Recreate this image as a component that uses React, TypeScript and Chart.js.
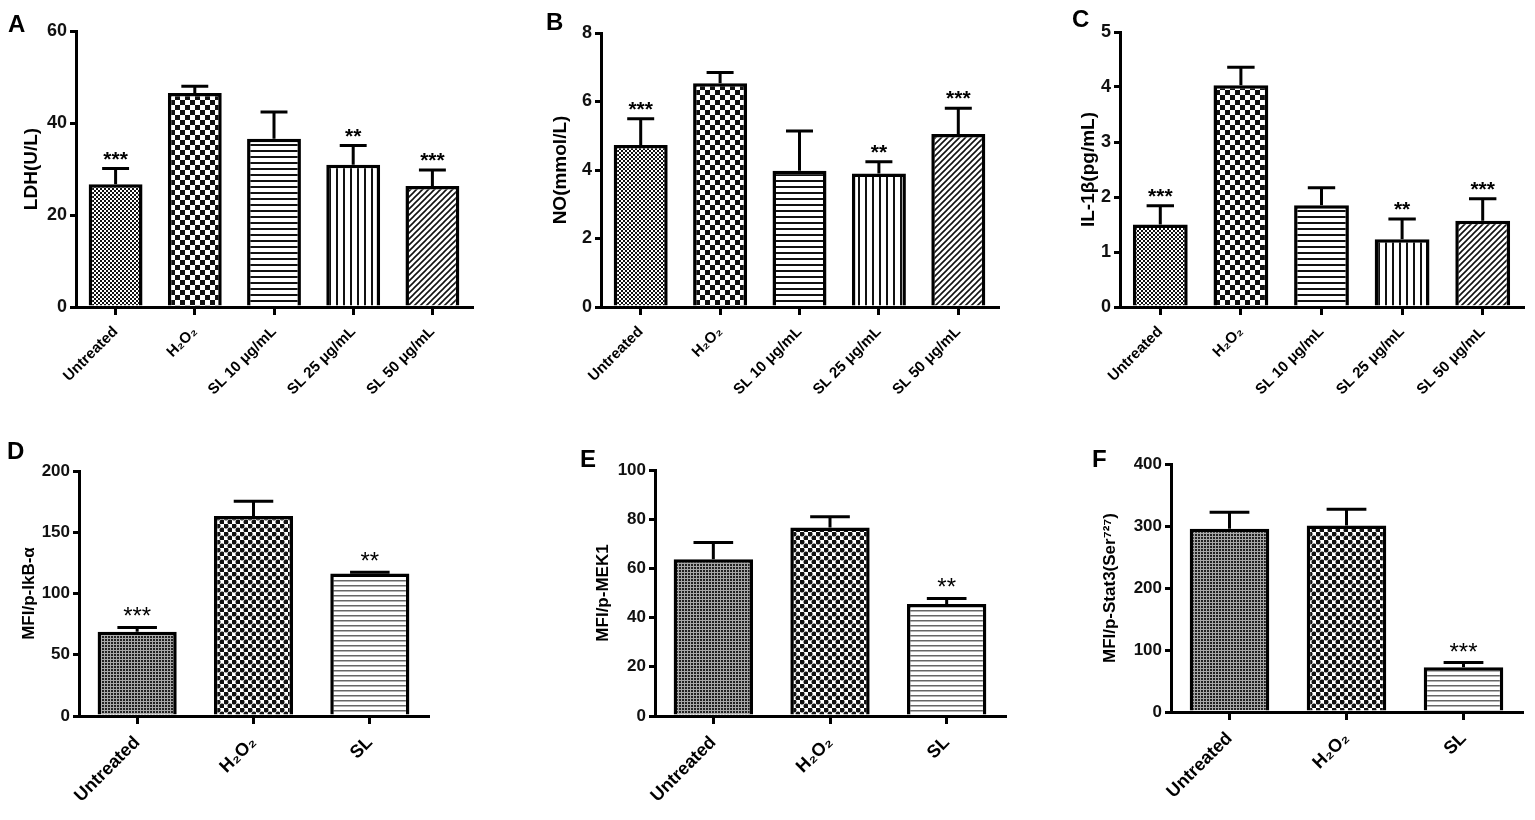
import { useEffect, useRef } from 'react';
import { Chart, registerables } from 'chart.js';

Chart.register(...registerables);

const FONT = '"Liberation Sans", Arial, Helvetica, sans-serif';

// categories
const doseGroups = ['Untreated', 'H₂O₂', 'SL 10 μg/mL', 'SL 25 μg/mL', 'SL 50 μg/mL'];
const mfiGroups = ['Untreated', 'H₂O₂', 'SL'];

// A - LDH
const ldhMean = [26.7, 46.5, 36.6, 30.9, 26.3];
const ldhSem = [3.4, 1.5, 5.8, 4.2, 3.5];
const ldhStars = ['***', '', '', '**', '***'];
// B - NO
const noMean = [4.73, 6.53, 3.98, 3.9, 5.05];
const noSem = [0.77, 0.32, 1.16, 0.34, 0.75];
const noStars = ['***', '', '', '**', '***'];
// C - IL-1b
const il1Mean = [1.5, 4.03, 1.85, 1.23, 1.57];
const il1Sem = [0.34, 0.33, 0.32, 0.37, 0.4];
const il1Stars = ['***', '', '', '**', '***'];
// D - p-IkB-a
const ikbMean = [68.8, 163.3, 116.3];
const ikbSem = [3.5, 12.0, 1.1];
const ikbStars = ['***', '', '**'];
// E - p-MEK1
const mekMean = [63.7, 76.6, 45.5];
const mekSem = [6.8, 4.4, 2.3];
const mekStars = ['', '', '**'];
// F - p-Stat3
const statMean = [295.6, 301.0, 72.0];
const statSem = [26.4, 26.0, 7.7];
const statStars = ['', '', '***'];

const makePattern = (kind: string) => {
    const c = document.createElement('canvas');
    const g = c.getContext('2d')!;
    const size = { fine: 4, check: 10, hl: 6, vl: 7, diag: 6, dots: 3, dotcheck: 8, grayl: 5 }[kind] || 4;
    c.width = size;
    c.height = size;
    g.fillStyle = '#fff';
    g.fillRect(0, 0, size, size);
    g.fillStyle = '#111';
    g.strokeStyle = '#111';
    if (kind === 'fine') {
        g.fillRect(0, 0, 2, 2);
        g.fillRect(2, 2, 2, 2);
    } else if (kind === 'check') {
        g.fillRect(0, 0, 5, 5);
        g.fillRect(5, 5, 5, 5);
    } else if (kind === 'hl') {
        g.fillRect(0, 0, size, 2);
    } else if (kind === 'vl') {
        g.fillRect(0, 0, 2, size);
    } else if (kind === 'diag') {
        g.lineWidth = 1.6;
        g.beginPath();
        g.moveTo(-1, size + 1);
        g.lineTo(size + 1, -1);
        g.moveTo(-1, 1);
        g.lineTo(1, -1);
        g.moveTo(size - 1, size + 1);
        g.lineTo(size + 1, size - 1);
        g.stroke();
    } else if (kind === 'dots') {
        g.fillStyle = '#a8a8a8';
        g.fillRect(0, 0, size, size);
        g.fillStyle = '#222';
        g.fillRect(0, 0, 2, 2);
    } else if (kind === 'dotcheck') {
        g.fillStyle = '#111';
        g.beginPath();
        g.arc(2, 2, 2.5, 0, Math.PI * 2);
        g.fill();
        g.beginPath();
        g.arc(6, 6, 2.5, 0, Math.PI * 2);
        g.fill();
    } else if (kind === 'grayl') {
        g.fillStyle = '#666';
        g.fillRect(0, 0, size, 1.5);
    }
    return g.createPattern(c, 'repeat');
};

const errorBarPlugin = {
    id: 'errorBars',
    afterDatasetsDraw(chart: any, _args: any, opts: any) {
        const { ctx } = chart;
        const y = chart.scales.y;
        const ds = chart.data.datasets[0];
        const meta = chart.getDatasetMeta(0);
        ctx.save();
        ctx.strokeStyle = '#000';
        ctx.fillStyle = '#000';
        ctx.lineWidth = 3;
        meta.data.forEach((bar: any, i: number) => {
            const top = y.getPixelForValue(ds.data[i] + ds.sem[i]);
            const half = bar.width / 4;
            ctx.beginPath();
            ctx.moveTo(bar.x, bar.y);
            ctx.lineTo(bar.x, top);
            ctx.moveTo(bar.x - half, top);
            ctx.lineTo(bar.x + half, top);
            ctx.stroke();
            if (ds.stars[i]) {
                ctx.font = opts.starFont;
                ctx.textAlign = 'center';
                ctx.textBaseline = 'alphabetic';
                ctx.fillText(ds.stars[i], bar.x, top + opts.starShift);
            }
        });
        ctx.restore();
    }
};

type PanelProps = {
    letter: string;
    left: number;
    top: number;
    width: number;
    height: number;
    yWidth: number;
    xHeight: number;
    padTop: number;
    padRight: number;
    titlePad: number;
    labels: string[];
    means: number[];
    sem: number[];
    stars: string[];
    fills: string[];
    yMax: number;
    yStep: number;
    yTitle: string;
    big: boolean;
    letterX: number;
    letterY: number;
};

const Panel = (p: PanelProps) => {
    const chartRef = useRef<HTMLCanvasElement>(null);

    useEffect(() => {
        const ctx = chartRef.current!.getContext('2d')!;
        const tickFont = p.big ? 18 : 17;
        const xFont = p.big ? 15 : 18;
        const titleFont = p.big ? 19 : 17;
        const chart = new Chart(ctx, {
            type: 'bar',
            data: {
                labels: p.labels,
                datasets: [{
                    data: p.means,
                    sem: p.sem,
                    stars: p.stars,
                    backgroundColor: p.fills.map(makePattern),
                    borderColor: '#000',
                    borderWidth: 3.5,
                    borderSkipped: 'bottom',
                    barPercentage: 0.68,
                    categoryPercentage: 1
                } as any]
            },
            options: {
                responsive: false,
                animation: false,
                layout: { padding: { top: p.padTop, right: p.padRight, left: 0, bottom: 0 } },
                plugins: {
                    legend: { display: false },
                    tooltip: { enabled: false },
                    errorBars: {
                        starFont: p.big ? `bold 21px ${FONT}` : `24px ${FONT}`,
                        starShift: p.big ? -3 : -3
                    }
                } as any,
                scales: {
                    x: {
                        offset: true,
                        grid: {
                            offset: false,
                            drawOnChartArea: false,
                            drawTicks: true,
                            tickLength: 8,
                            tickWidth: 3,
                            tickColor: '#000',
                            lineWidth: 3
                        },
                        border: { display: true, width: 3, color: '#000' },
                        ticks: {
                            color: '#000',
                            font: { family: FONT, size: xFont, weight: 'bold' },
                            minRotation: 45,
                            maxRotation: 45,
                            autoSkip: false,
                            padding: 8
                        },
                        afterFit: (s: any) => { s.height = p.xHeight; }
                    },
                    y: {
                        min: 0,
                        max: p.yMax,
                        grid: {
                            drawOnChartArea: false,
                            drawTicks: true,
                            tickLength: 6,
                            tickWidth: 3,
                            tickColor: '#000',
                            lineWidth: 3
                        },
                        border: { display: true, width: 3, color: '#000' },
                        ticks: {
                            stepSize: p.yStep,
                            color: '#111',
                            font: { family: FONT, size: tickFont, weight: 'bold' },
                            padding: 3
                        },
                        title: {
                            display: true,
                            text: p.yTitle,
                            color: '#000',
                            font: { family: FONT, size: titleFont, weight: 'bold' },
                            padding: { top: p.titlePad, bottom: 0 }
                        },
                        afterFit: (s: any) => { s.width = p.yWidth; }
                    }
                }
            },
            plugins: [errorBarPlugin]
        });

        return () => {
            chart.destroy();
        };
    }, [p]);

    return (
        <>
            <canvas
                ref={chartRef}
                width={p.width}
                height={p.height}
                style={{ position: 'absolute', left: p.left, top: p.top, width: p.width, height: p.height }}
            ></canvas>
            <div style={{
                position: 'absolute', left: p.letterX, top: p.letterY, fontFamily: FONT,
                fontWeight: 'bold', fontSize: 24, lineHeight: 1, color: '#000'
            }}>{p.letter}</div>
        </>
    );
};

const panels: PanelProps[] = [
    {
        letter: 'A', left: 0, top: 0, width: 490, height: 410, yWidth: 76, xHeight: 103, padTop: 31, padRight: 18,
        titlePad: 20, labels: doseGroups, means: ldhMean, sem: ldhSem, stars: ldhStars,
        fills: ['fine', 'check', 'hl', 'vl', 'diag'], yMax: 60, yStep: 20, yTitle: 'LDH(U/L)', big: true,
        letterX: 8, letterY: 12
    },
    {
        letter: 'B', left: 515, top: 0, width: 500, height: 410, yWidth: 86, xHeight: 103, padTop: 33, padRight: 17,
        titlePad: 34, labels: doseGroups, means: noMean, sem: noSem, stars: noStars,
        fills: ['fine', 'check', 'hl', 'vl', 'diag'], yMax: 8, yStep: 2, yTitle: 'NO(mmol/L)', big: true,
        letterX: 546, letterY: 10
    },
    {
        letter: 'C', left: 1035, top: 0, width: 500, height: 410, yWidth: 85, xHeight: 103, padTop: 32, padRight: 12,
        titlePad: 42, labels: doseGroups, means: il1Mean, sem: il1Sem, stars: il1Stars,
        fills: ['fine', 'check', 'hl', 'vl', 'diag'], yMax: 5, yStep: 1, yTitle: 'IL-1β(pg/mL)', big: true,
        letterX: 1072, letterY: 7
    },
    {
        letter: 'D', left: 0, top: 420, width: 450, height: 400, yWidth: 79, xHeight: 104, padTop: 51, padRight: 22,
        titlePad: 19, labels: mfiGroups, means: ikbMean, sem: ikbSem, stars: ikbStars,
        fills: ['dots', 'dotcheck', 'grayl'], yMax: 200, yStep: 50, yTitle: 'MFI/p-IkB-α', big: false,
        letterX: 7, letterY: 439
    },
    {
        letter: 'E', left: 520, top: 420, width: 500, height: 400, yWidth: 135, xHeight: 104, padTop: 50, padRight: 15,
        titlePad: 73, labels: mfiGroups, means: mekMean, sem: mekSem, stars: mekStars,
        fills: ['dots', 'dotcheck', 'grayl'], yMax: 100, yStep: 20, yTitle: 'MFI/p-MEK1', big: false,
        letterX: 580, letterY: 447
    },
    {
        letter: 'F', left: 1060, top: 420, width: 475, height: 400, yWidth: 111, xHeight: 108, padTop: 44, padRight: 13,
        titlePad: 40, labels: mfiGroups, means: statMean, sem: statSem, stars: statStars,
        fills: ['dots', 'dotcheck', 'grayl'], yMax: 400, yStep: 100, yTitle: 'MFI/p-Stat3(Ser⁷²⁷)', big: false,
        letterX: 1092, letterY: 447
    }
];

const App = () => {
    return (
        <div style={{ position: 'absolute', left: 0, top: 0, width: 1535, height: 820, background: '#fff' }}>
            {panels.map(p => <Panel key={p.letter} {...p} />)}
        </div>
    );
};

export default App;
